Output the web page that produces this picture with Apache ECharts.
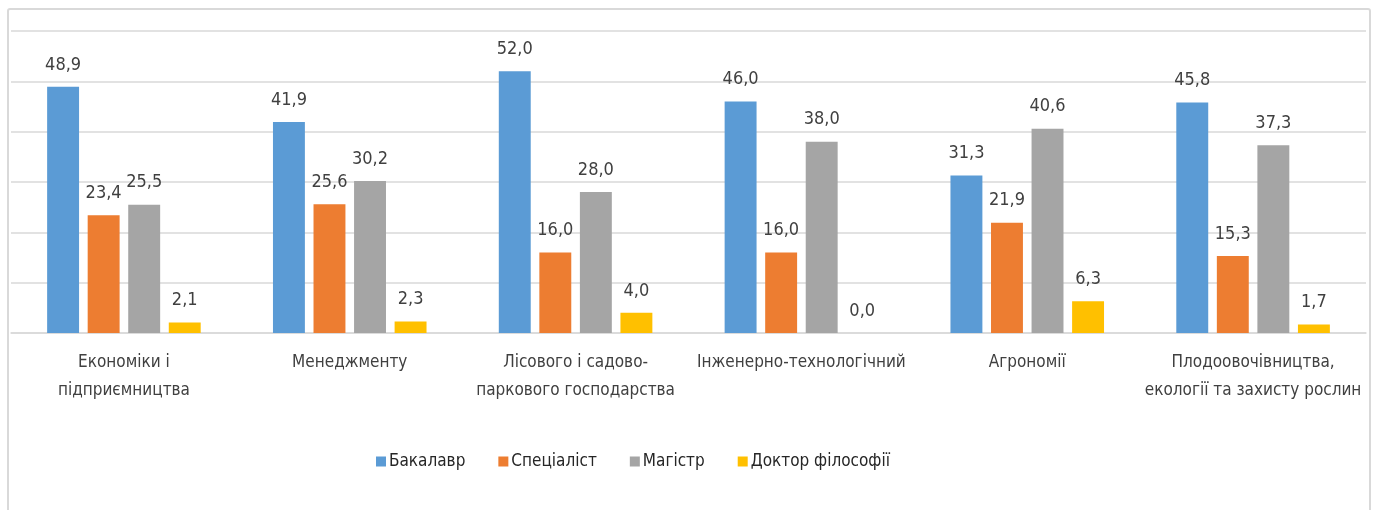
<!DOCTYPE html>
<html>
<head>
<meta charset="utf-8">
<script src="https://cdn.jsdelivr.net/npm/echarts@6/dist/echarts.min.js"></script>
<style>
  html, body { margin: 0; padding: 0; background: #fff; overflow: hidden; }
  #frame {
    position: absolute; left: 7px; top: 8px; width: 1364px; height: 520px;
    border: 2px solid #d9d9d9; border-radius: 3px; box-sizing: border-box;
  }
  #chart { position: absolute; left: 0; top: 0; width: 1378px; height: 510px; }
</style>
</head>
<body>
<div id="frame"></div>
<div id="chart"></div>
<script>
// факультети
var categories = [
    'Економіки і\nпідприємництва',
    'Менеджменту',
    'Лісового і садово-\nпаркового господарства',
    'Інженерно-технологічний',
    'Агрономії',
    'Плодоовочівництва,\nекології та захисту рослин'
];
var bakalavr   = [48.9, 41.9, 52.0, 46.0, 31.3, 45.8];
var specialist = [23.4, 25.6, 16.0, 16.0, 21.9, 15.3];
var magistr    = [25.5, 30.2, 28.0, 38.0, 40.6, 37.3];
var doktor     = [2.1, 2.3, 4.0, 0.0, 6.3, 1.7];

var FONT = '"Liberation Sans Narrow", "DejaVu Sans Condensed", sans-serif';

function makeSeries(name, data, color) {
    return {
        name: name,
        type: 'bar',
        data: data,
        barGap: '27%',
        barCategoryGap: '32%',
        itemStyle: { color: color },
        label: {
            show: true,
            position: 'top',
            distance: 13,
            color: '#404040',
            fontSize: 18,
            fontFamily: FONT,
            formatter: function (p) { return p.value.toFixed(1).replace('.', ','); }
        }
    };
}

var chart = echarts.init(document.getElementById('chart'));
chart.setOption({
    animation: false,
    grid: { left: 11, right: 12, top: 31, bottom: 177 },
    legend: {
        bottom: 35,
        left: 371,
        itemWidth: 10,
        itemHeight: 10,
        itemGap: 33,
        icon: 'rect',
        textStyle: { color: '#262626', fontSize: 17, fontFamily: FONT, padding: [0, 0, 0, -2] }
    },
    xAxis: {
        type: 'category',
        data: categories,
        axisLine: { lineStyle: { color: '#d9d9d9', width: 1.5 } },
        axisTick: { show: false },
        axisLabel: {
            color: '#404040',
            fontSize: 17,
            fontFamily: FONT,
            lineHeight: 28,
            margin: 16,
            interval: 0
        }
    },
    yAxis: {
        type: 'value',
        min: 0,
        max: 60,
        interval: 10,
        axisLabel: { show: false },
        axisLine: { show: false },
        axisTick: { show: false },
        splitLine: { lineStyle: { color: '#d9d9d9', width: 1.5 } }
    },
    series: [
        makeSeries('Бакалавр', bakalavr, '#5B9BD5'),
        makeSeries('Спеціаліст', specialist, '#ED7D31'),
        makeSeries('Магістр', magistr, '#A5A5A5'),
        makeSeries('Доктор філософії', doktor, '#FFC000')
    ]
});
</script>
</body>
</html>
